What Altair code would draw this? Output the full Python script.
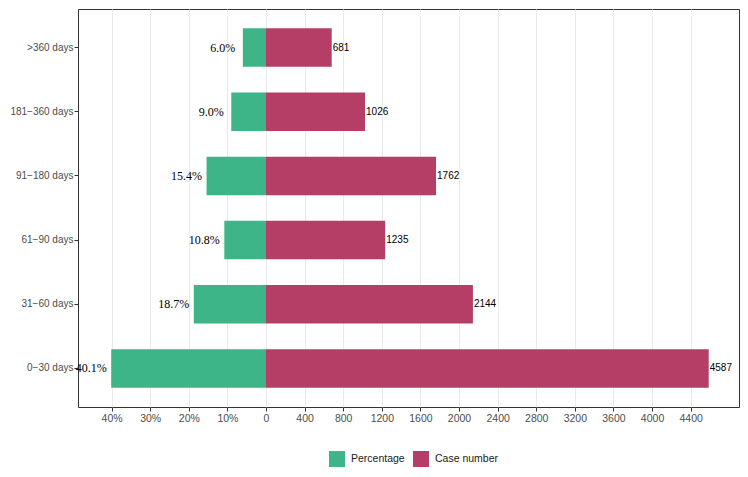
import altair as alt
import pandas as pd

categories = [">360 days", "181\u2212360 days", "91\u2212180 days", "61\u221290 days", "31\u221260 days", "0\u221230 days"]
percentages = [6.0, 9.0, 15.4, 10.8, 18.7, 40.1]
case_numbers = [681, 1026, 1762, 1235, 2144, 4587]
series_names = ["Percentage", "Case number"]
series_colors = ["#3db589", "#b43e65"]
pct_ticks = [40, 30, 20, 10]
count_ticks = [0, 400, 800, 1200, 1600, 2000, 2400, 2800, 3200, 3600, 4000, 4400]
PCT_FACTOR = 40  # 10% drawn at the same length as 400 cases

rows = []
for cat, p, c in zip(categories, percentages, case_numbers):
    rows.append({"category": cat, "series": "Percentage", "value": -p * PCT_FACTOR, "label": f"{p:.1f}%"})
    rows.append({"category": cat, "series": "Case number", "value": c, "label": str(c)})
df = pd.DataFrame(rows)

tick_values = [-t * PCT_FACTOR for t in pct_ticks] + count_ticks

y_enc = alt.Y(
    "category:N", sort=categories,
    scale=alt.Scale(paddingInner=0.4, paddingOuter=0.3),
    axis=alt.Axis(title=None, domain=False, grid=False, tickSize=4, tickColor="#333333",
                  labelFontSize=10, labelColor="#4d4d4d", labelFont="Liberation Sans", labelPadding=1),
)
x_enc = alt.X(
    "value:Q",
    scale=alt.Scale(domain=[-1948, 4901], nice=False, zero=False),
    axis=alt.Axis(title=None, domain=False, values=tick_values, grid=True, gridColor="#ebebeb",
                  gridWidth=1, tickSize=4, tickColor="#333333", labelFontSize=10.5,
                  labelColor="#4d4d4d", labelFont="Liberation Sans", labelPadding=2,
                  labelFlush=False, labelOverlap=False,
                  labelExpr=f"datum.value < 0 ? format(-datum.value / {PCT_FACTOR}, 'd') + '%' : format(datum.value, 'd')"),
)

base = alt.Chart(df)

bars = base.mark_bar().encode(
    y=y_enc,
    x=x_enc,
    color=alt.Color(
        "series:N",
        scale=alt.Scale(domain=series_names, range=series_colors),
        legend=alt.Legend(title=None, orient="none", direction="horizontal", legendX=251, legendY=442,
                          symbolType="square", symbolSize=256, symbolStrokeWidth=0,
                          labelFontSize=10.5, labelFont="Liberation Sans", labelColor="#1a1a1a",
                          labelOffset=6, columnPadding=8),
    ),
)

pct_text = base.transform_filter(alt.datum.series == "Percentage").mark_text(
    align="center", baseline="middle", dx=-20, font="Liberation Serif", fontSize=12, color="black"
).encode(y=alt.Y("category:N", sort=categories), x="value:Q", text="label:N")

count_text = base.transform_filter(alt.datum.series == "Case number").mark_text(
    align="left", baseline="middle", dx=1, font="Liberation Sans", fontSize=10, color="black"
).encode(y=alt.Y("category:N", sort=categories), x="value:Q", text="label:N")

chart = alt.layer(bars, pct_text, count_text).properties(
    width=661, height=398,
    autosize=alt.AutoSizeParams(type="none"),
    padding={"left": 70, "top": 1, "right": 1, "bottom": 60},
    background="white",
).configure_view(stroke="#333333", strokeWidth=1)

chart.save("out.html", embed_options={"renderer": "svg", "actions": False})
